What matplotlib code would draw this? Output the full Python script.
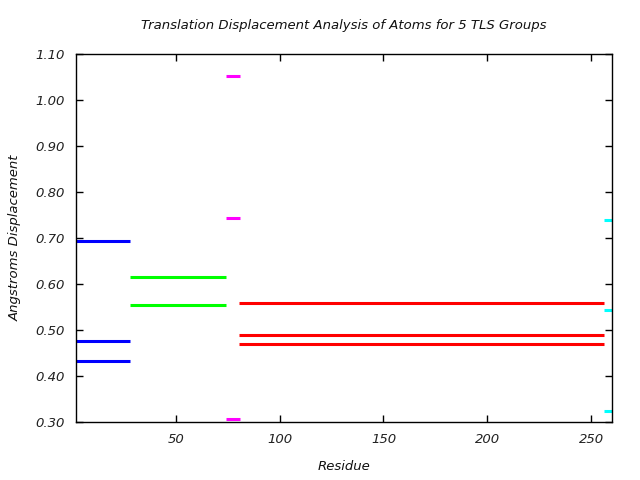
import matplotlib
matplotlib.use("Agg")
import matplotlib.pyplot as plt

# TLS groups: residue ranges and translation displacement values
group_colors = ["#0000ff", "#00ff00", "#ff00ff", "#ff0000", "#00ffff"]
group_starts = [2, 28, 74, 80.5, 256]
group_ends = [28, 74, 81, 256.3, 260]
group_values = [
    [0.693, 0.476, 0.432],
    [0.615, 0.555],
    [1.052, 0.743, 0.306],
    [0.559, 0.489, 0.470],
    [0.739, 0.543, 0.323],
]

x_ticks = [50, 100, 150, 200, 250]
y_ticks = [0.30, 0.40, 0.50, 0.60, 0.70, 0.80, 0.90, 1.00, 1.10]

plt.rcParams['font.family'] = ['DejaVu Sans']
fig = plt.figure(figsize=(6.4, 4.8), dpi=100)
ax = fig.add_axes([76/640, 1 - 422/480, (612 - 76)/640, (422 - 54.3)/480])

for c, s, e, vals in zip(group_colors, group_starts, group_ends, group_values):
    for v in vals:
        ax.plot([s, e], [v, v], color=c, lw=2.2, solid_capstyle='butt', clip_on=False)

ax.set_xlim(2, 260)
ax.set_ylim(0.30, 1.10)
ax.set_xticks(x_ticks)
ax.set_xticklabels([str(t) for t in x_ticks], fontstyle='italic', fontsize=9.5, color='#222222')
ax.set_yticks(y_ticks)
ax.set_yticklabels([f"{t:.2f}" for t in y_ticks], fontstyle='italic', fontsize=9.5, color='#222222')
ax.tick_params(direction='in', length=5, width=1, top=True, right=True, pad=8, colors='black')
for lab in ax.get_xticklabels() + ax.get_yticklabels():
    lab.set_color('#222222')
for sp in ax.spines.values():
    sp.set_linewidth(1)

ax.set_title("Translation Displacement Analysis of Atoms for 5 TLS Groups",
             fontstyle='italic', fontsize=9.5, pad=18, color='#111111')
ax.set_xlabel("Residue", fontstyle='italic', fontsize=9.5, labelpad=10, color='#111111')
ax.set_ylabel("Angstroms Displacement", fontstyle='italic', fontsize=9.5, labelpad=10, color='#111111')

fig.savefig("out.png", dpi=100)
